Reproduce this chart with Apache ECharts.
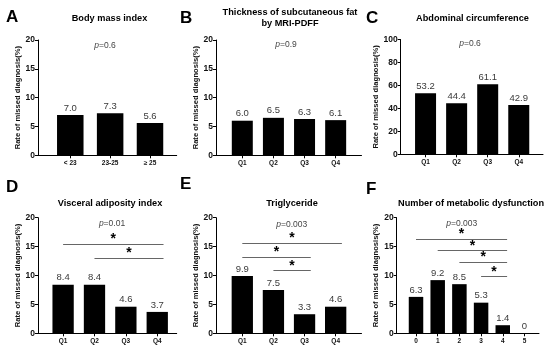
<!DOCTYPE html>
<html>
<head>
<meta charset="utf-8">
<script src="https://cdn.jsdelivr.net/npm/echarts@6/dist/echarts.min.js"></script>
<style>html,body{margin:0;padding:0;background:#fff}#c{width:550px;height:349px}</style>
</head>
<body>
<div id="c"></div>
<script>
// ---- data ----
const bmiCats = ['< 23', '23-25', '≥ 25'];
const bmiRates = [7.0, 7.3, 5.6];
const quartileCats = ['Q1', 'Q2', 'Q3', 'Q4'];
const fatRates = [6.0, 6.5, 6.3, 6.1];
const waistRates = [53.2, 44.4, 61.1, 42.9];
const vaiRates = [8.4, 8.4, 4.6, 3.7];
const tgRates = [9.9, 7.5, 3.3, 4.6];
const metabCats = ['0', '1', '2', '3', '4', '5'];
const metabRates = [6.3, 9.2, 8.5, 5.3, 1.4, 0];
const panelTitles = ['Body mass index', 'Thickness of subcutaneous fat\nby MRI-PDFF', 'Abdominal circumference',
  'Visceral adiposity index', 'Triglyceride', 'Number of metabolic dysfunction'];
const panelLetters = ['A', 'B', 'C', 'D', 'E', 'F'];
const pValues = ['0.6', '0.9', '0.6', '0.01', '0.003', '0.003'];
const rateTicksMax = 20, rateTicksStep = 5;
const waistTicksMax = 100, waistTicksStep = 20;
// significance comparisons [from, to] and bracket heights (%)
const vaiSig = [[0, 3], [1, 3]];
const vaiSigY = [15.45, 13.0];
const tgSig = [[0, 3], [0, 2], [1, 2]];
const tgSigY = [15.57, 13.15, 10.83];
const metabSig = [[0, 4], [1, 4], [2, 4], [3, 4]];
const metabSigY = [16.3, 14.3, 12.3, 9.8];

// ---- layout ----
const FONT = "Arial, 'Liberation Sans', sans-serif";
const panels = [
  {cats: bmiCats, rates: bmiRates, grid: [38, 40, 138.7, 115.3], xr: [-0.81, 2.67], bw: 26.5, ymax: rateTicksMax, ystep: rateTicksStep, sig: [], sigY: []},
  {cats: quartileCats, rates: fatRates, grid: [216, 40, 145.5, 115.3], xr: [-0.845, 3.83], bw: 21, ymax: rateTicksMax, ystep: rateTicksStep, sig: [], sigY: []},
  {cats: quartileCats, rates: waistRates, grid: [400.7, 39.5, 142.3, 114.8], xr: [-0.80, 3.78], bw: 21, ymax: waistTicksMax, ystep: waistTicksStep, sig: [], sigY: []},
  {cats: quartileCats, rates: vaiRates, grid: [38, 217.7, 138.7, 115.6], xr: [-0.80, 3.62], bw: 21.3, ymax: rateTicksMax, ystep: rateTicksStep, sig: vaiSig, sigY: vaiSigY},
  {cats: quartileCats, rates: tgRates, grid: [216, 217.7, 145.5, 115.6], xr: [-0.845, 3.83], bw: 21.3, ymax: rateTicksMax, ystep: rateTicksStep, sig: tgSig, sigY: tgSigY},
  {cats: metabCats, rates: metabRates, grid: [396.7, 217.7, 142.3, 115.6], xr: [-0.89, 5.67], bw: 14.5, ymax: rateTicksMax, ystep: rateTicksStep, sig: metabSig, sigY: metabSigY}
];
const titlePos = [[109.5, 18], [290, 18], [472.5, 18], [110, 203.3], [292, 203.3], [471, 203.3]];
const letterPos = [[6, 17], [180, 18], [366, 18], [6, 187.5], [180, 184.5], [366, 189.5]];
const pPos = [[105, 45.7], [286, 45], [470, 44], [112, 224], [291.7, 224.3], [461.7, 223.3]];

const grids = [], xAxes = [], yAxes = [], series = [], graphics = [];
panels.forEach((p, i) => {
  grids.push({left: p.grid[0], top: p.grid[1], width: p.grid[2], height: p.grid[3], containLabel: false});
  const idx = p.cats.map((c, j) => j);
  xAxes.push({
    type: 'value', gridIndex: i, min: p.xr[0], max: p.xr[1],
    axisLine: {show: true, onZero: false, lineStyle: {color: '#000', width: 1}},
    splitLine: {show: false},
    axisTick: {show: true, customValues: idx, length: 3, lineStyle: {color: '#000', width: 1}},
    axisLabel: {customValues: idx, formatter: v => p.cats[Math.round(v)], fontSize: 6.5, fontWeight: 'bold', color: '#111', fontFamily: FONT, margin: 4}
  });
  yAxes.push({
    type: 'value', gridIndex: i, min: 0, max: p.ymax, interval: p.ystep,
    name: 'Rate of missed diagnosis(%)', nameLocation: 'middle', nameGap: 16, nameRotate: 90,
    nameTextStyle: {fontSize: 7.6, fontWeight: 'bold', color: '#111', fontFamily: FONT},
    axisLine: {show: true, onZero: false, lineStyle: {color: '#000', width: 1}},
    axisTick: {show: true, length: 3, lineStyle: {color: '#000', width: 1}},
    axisLabel: {fontSize: 8.5, fontWeight: 'bold', color: '#111', fontFamily: FONT, margin: 3},
    splitLine: {show: false}
  });
  const markData = p.sig.map((s, k) => [
    {coord: [s[0], p.sigY[k]]},
    {coord: [s[1] + 0.2, p.sigY[k]]}
  ]);
  series.push({
    type: 'bar', xAxisIndex: i, yAxisIndex: i, barWidth: p.bw,
    data: p.rates.map((v, j) => [j, v]),
    itemStyle: {color: '#000'},
    label: {show: true, position: 'top', distance: 2, fontSize: 9.5, color: '#3a3a3a', fontFamily: FONT,
      formatter: q => q.value[1] === 0 ? '0' : q.value[1].toFixed(1)},
    markLine: markData.length ? {
      silent: true, symbol: ['none', 'none'], animation: false,
      lineStyle: {color: '#666', width: 1, type: 'solid'},
      label: {show: true, position: 'middle', formatter: '*', fontSize: 14, fontWeight: 'bold', color: '#000', fontFamily: FONT, distance: -2},
      emphasis: {disabled: true},
      data: markData
    } : undefined
  });
  graphics.push({type: 'text', x: titlePos[i][0], y: titlePos[i][1],
    style: {text: panelTitles[i], align: 'center', verticalAlign: 'middle', fontSize: 9.2, fontWeight: 'bold', fontFamily: FONT, fill: '#000', lineHeight: 11.5}});
  graphics.push({type: 'text', x: letterPos[i][0], y: letterPos[i][1],
    style: {text: panelLetters[i], align: 'left', verticalAlign: 'middle', fontSize: 17, fontWeight: 'bold', fontFamily: FONT, fill: '#000'}});
  graphics.push({type: 'text', x: pPos[i][0], y: pPos[i][1],
    style: {text: '{i|p}{n|=' + pValues[i] + '}', align: 'center', verticalAlign: 'middle',
      rich: {i: {fontStyle: 'italic', fontSize: 8.5, fontFamily: FONT, fill: '#444'}, n: {fontSize: 8.5, fontFamily: FONT, fill: '#444'}}}});
});

const chart = echarts.init(document.getElementById('c'), null, {renderer: 'canvas'});
chart.setOption({
  backgroundColor: '#fff', animation: false,
  grid: grids, xAxis: xAxes, yAxis: yAxes, series: series, graphic: graphics
});
</script>
</body>
</html>
